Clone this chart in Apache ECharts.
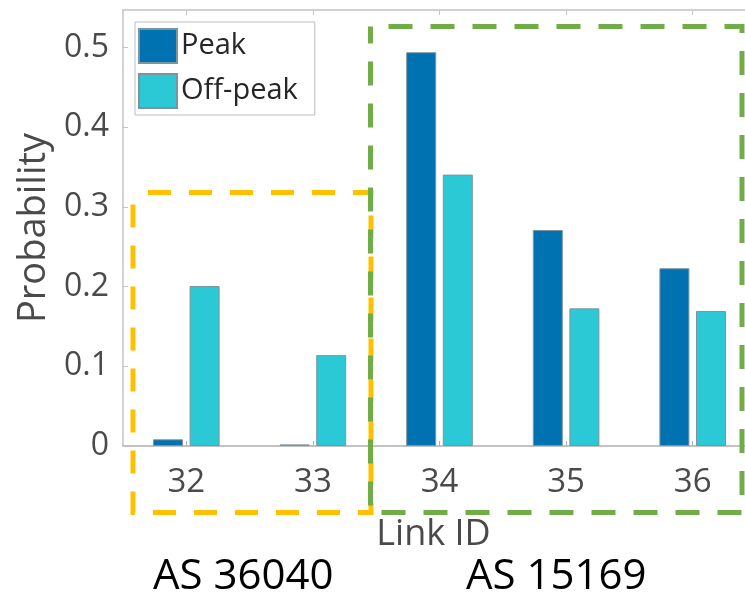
<!DOCTYPE html>
<html>
<head>
<meta charset="utf-8">
<script src="https://cdn.jsdelivr.net/npm/echarts@6/dist/echarts.min.js"></script>
<style>html,body{margin:0;padding:0;background:#fff;}#c{width:745px;height:599px;}</style>
</head>
<body>
<div id="c"></div>
<script>
const categories = ['32', '33', '34', '35', '36'];
const peak = [0.0084, 0.002, 0.494, 0.271, 0.223];
const offPeak = [0.2007, 0.114, 0.3405, 0.1727, 0.1694];
const seriesNames = ['Peak', 'Off-peak'];
const groupLabels = ['AS 36040', 'AS 15169'];

const FONT = 'Open Sans';
const axisGray = '#c4c4c4';
const textGray = '#4a4a4a';

const chart = echarts.init(document.getElementById('c'), null, {renderer: 'canvas'});

const barBorder = {borderColor: '#7a95a0', borderWidth: 1};

const option = {
  animation: false,
  backgroundColor: '#fff',
  grid: {left: 123, top: 10, width: 633, height: 436, containLabel: false, outerBoundsMode: 'none'},
  legend: {
    orient: 'vertical',
    left: 135, top: 22,
    itemWidth: 38, itemHeight: 34, itemGap: 9,
    padding: [6, 17, 6, 3],
    borderColor: '#bdbdbd', borderWidth: 1,
    backgroundColor: '#fff',
    icon: 'rect',
    textStyle: {fontFamily: FONT, fontSize: 29, lineHeight: 34, color: '#262626', padding: [0, 0, 0, -1]},
    data: seriesNames
  },
  xAxis: [{
    type: 'category',
    data: categories,
    position: 'bottom',
    name: 'Link ID',
    nameLocation: 'middle',
    nameGap: 71,
    nameTextStyle: {fontFamily: FONT, fontSize: 36, color: textGray, padding: [0, 12, 0, 0]},
    axisLine: {show: true, lineStyle: {color: '#b0b0b0', width: 1.5}},
    axisTick: {show: true, alignWithLabel: true, inside: true, length: 5, lineStyle: {color: '#b0b0b0'}},
    axisLabel: {fontFamily: FONT, fontSize: 33, color: textGray, margin: 20},
    splitLine: {show: false}
  }, {
    type: 'category',
    data: categories,
    position: 'top',
    axisLine: {show: true, lineStyle: {color: axisGray, width: 1.5}},
    axisTick: {show: true, alignWithLabel: true, inside: true, length: 5, lineStyle: {color: axisGray}},
    axisLabel: {show: false},
    splitLine: {show: false}
  }],
  yAxis: {
    type: 'value',
    min: 0, max: 0.547, interval: 0.1,
    name: 'Probability',
    nameLocation: 'middle',
    nameGap: 69,
    nameTextStyle: {fontFamily: FONT, fontSize: 38, color: textGray},
    axisLine: {show: true, lineStyle: {color: axisGray, width: 1.5}},
    axisTick: {show: true, inside: true, length: 5, lineStyle: {color: axisGray}},
    axisLabel: {fontFamily: FONT, fontSize: 32, color: textGray, margin: 14, showMaxLabel: false,
      formatter: v => (v === 0 ? '0' : String(Math.round(v * 10) / 10))},
    splitLine: {show: false}
  },
  series: [{
    name: seriesNames[0], type: 'bar', data: peak,
    barWidth: 30, barGap: '22%',
    itemStyle: Object.assign({color: '#0071B1'}, barBorder)
  }, {
    name: seriesNames[1], type: 'bar', data: offPeak,
    barWidth: 30, barGap: '22%',
    itemStyle: Object.assign({color: '#2BC8D5'}, barBorder)
  }],
  graphic: [
    {type: 'rect', z: 100, shape: {x: 133, y: 192.5, width: 238, height: 320},
      style: {fill: 'none', stroke: '#FFC000', lineWidth: 5, lineDash: [23, 18], lineDashOffset: -15}},
    {type: 'rect', z: 101, shape: {x: 370.5, y: 26.5, width: 371.5, height: 486},
      style: {fill: 'none', stroke: '#70AD47', lineWidth: 5, lineDash: [24, 18], lineDashOffset: -18}},
    {type: 'text', z: 102, left: 153, top: 556,
      style: {text: groupLabels[0], font: '42px "' + FONT + '"', fill: '#000'}},
    {type: 'text', z: 102, left: 466, top: 556,
      style: {text: groupLabels[1], font: '42px "' + FONT + '"', fill: '#000'}}
  ]
};
chart.setOption(option);
</script>
</body>
</html>
